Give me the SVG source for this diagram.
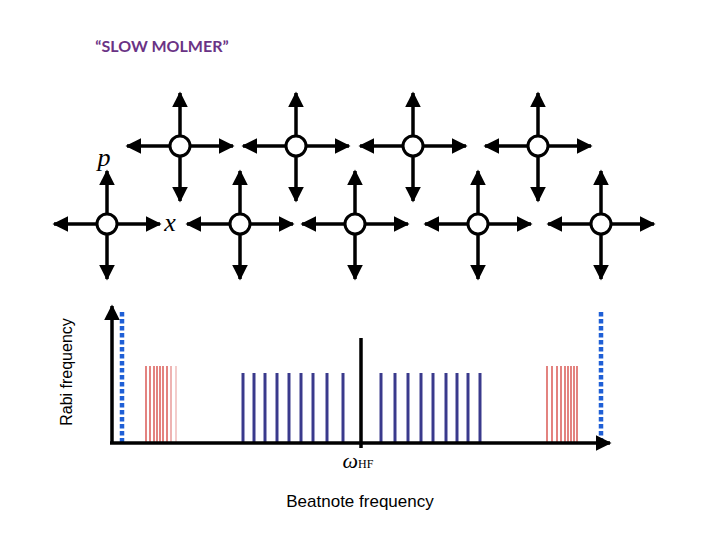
<svg xmlns="http://www.w3.org/2000/svg" width="720" height="540" viewBox="0 0 720 540">
<style>
.a{stroke:#000;stroke-width:3.5;fill:none}
.n{fill:#fff;stroke:#000;stroke-width:3}
.b{stroke:#3a3a8c;stroke-width:3}
.r{stroke:#d0302a;stroke-width:1.2}
.d{stroke:#1f5fd6;stroke-width:4.5;stroke-dasharray:4.5 2.5}
</style>
<defs>
<marker id="h" viewBox="0 0 10 10" refX="9" refY="5" markerWidth="4.5" markerHeight="4.5" orient="auto"><path d="M0,0L10,5L0,10z" fill="#000"/></marker>
<g id="cross">
<line class="a" x1="0" y1="0" x2="-53" y2="0" marker-end="url(#h)"/>
<line class="a" x1="0" y1="0" x2="53" y2="0" marker-end="url(#h)"/>
<line class="a" x1="0" y1="0" x2="0" y2="-53" marker-end="url(#h)"/>
<line class="a" x1="0" y1="0" x2="0" y2="55" marker-end="url(#h)"/>
<circle class="n" cx="0" cy="0" r="10"/>
</g>
</defs>
<text x="162" y="52" text-anchor="middle" font-family="Lato, 'Open Sans', sans-serif" font-weight="bold" font-size="16" fill="#6a3385">“SLOW MOLMER”</text>
<g id="lattice">
<use href="#cross" x="180" y="146"/>
<use href="#cross" x="296" y="146"/>
<use href="#cross" x="413" y="146"/>
<use href="#cross" x="538" y="146"/>
<use href="#cross" x="107" y="224"/>
<use href="#cross" x="240" y="224"/>
<use href="#cross" x="355" y="224"/>
<use href="#cross" x="478" y="224"/>
<use href="#cross" x="601" y="224"/>
</g>
<text x="104" y="166" text-anchor="middle" font-family="'Liberation Serif', serif" font-style="italic" font-size="26">p</text>
<text x="170" y="231" text-anchor="middle" font-family="'Liberation Serif', serif" font-style="italic" font-size="26">x</text>
<g id="plot">
<g class="r">
<line x1="146" y1="366" x2="146" y2="443"/><line x1="150" y1="366" x2="150" y2="443"/><line x1="154" y1="366" x2="154" y2="443"/><line x1="157" y1="366" x2="157" y2="443"/><line x1="160" y1="366" x2="160" y2="443"/><line x1="163" y1="366" x2="163" y2="443"/><line x1="167" y1="366" x2="167" y2="443"/><line x1="171" y1="366" x2="171" y2="443" opacity="0.6"/><line x1="176" y1="366" x2="176" y2="443" opacity="0.4"/>
<line x1="547" y1="366" x2="547" y2="443"/><line x1="552" y1="366" x2="552" y2="443"/><line x1="557" y1="366" x2="557" y2="443"/><line x1="561" y1="366" x2="561" y2="443"/><line x1="565" y1="366" x2="565" y2="443"/><line x1="568" y1="366" x2="568" y2="443"/><line x1="571" y1="366" x2="571" y2="443"/><line x1="574" y1="366" x2="574" y2="443"/><line x1="577" y1="366" x2="577" y2="443"/>
</g>
<g class="b">
<line x1="243" y1="373" x2="243" y2="443"/><line x1="254" y1="373" x2="254" y2="443"/><line x1="265" y1="373" x2="265" y2="443"/><line x1="277" y1="373" x2="277" y2="443"/><line x1="289" y1="373" x2="289" y2="443"/><line x1="301" y1="373" x2="301" y2="443"/><line x1="313" y1="373" x2="313" y2="443"/><line x1="327" y1="373" x2="327" y2="443"/><line x1="343" y1="373" x2="343" y2="443"/>
<line x1="381" y1="373" x2="381" y2="443"/><line x1="395" y1="373" x2="395" y2="443"/><line x1="408" y1="373" x2="408" y2="443"/><line x1="421" y1="373" x2="421" y2="443"/><line x1="433" y1="373" x2="433" y2="443"/><line x1="446" y1="373" x2="446" y2="443"/><line x1="457" y1="373" x2="457" y2="443"/><line x1="468" y1="373" x2="468" y2="443"/><line x1="480" y1="373" x2="480" y2="443"/>
</g>
<line x1="361" y1="338" x2="361" y2="448" stroke="#000" stroke-width="3.5"/>
<line class="d" x1="122" y1="312" x2="122" y2="443"/>
<line class="d" x1="601" y1="312" x2="601" y2="443"/>
<line class="a" x1="112" y1="443" x2="112" y2="306" marker-end="url(#h)"/>
<line class="a" x1="110" y1="443" x2="610" y2="443" marker-end="url(#h)"/>
</g>
<text x="358" y="468" text-anchor="middle" font-family="'Liberation Serif', serif" font-style="italic" font-size="22">ω<tspan font-style="normal" font-size="12">HF</tspan></text>
<text transform="translate(72,372) rotate(-90)" text-anchor="middle" font-family="'Liberation Sans', sans-serif" font-size="16">Rabi frequency</text>
<text x="360" y="507" text-anchor="middle" font-family="'Liberation Sans', sans-serif" font-size="17">Beatnote frequency</text>
</svg>
